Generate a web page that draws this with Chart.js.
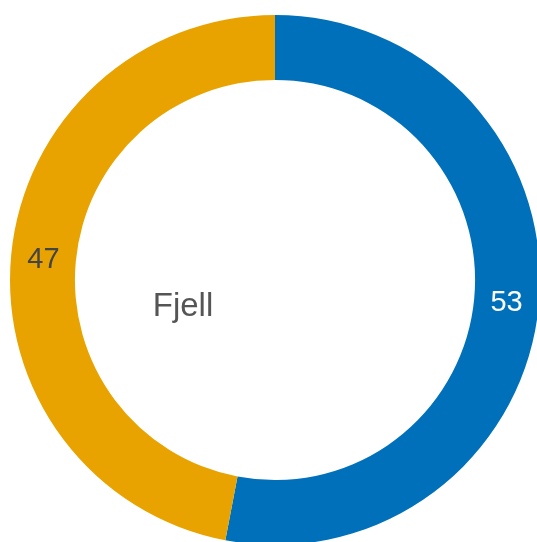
<!DOCTYPE html>
<html>
<head>
<meta charset="utf-8">
<script src="https://cdn.jsdelivr.net/npm/chart.js@4/dist/chart.umd.min.js"></script>
<style>
  html, body { margin: 0; padding: 0; background: #fff; overflow: hidden; }
  #wrap { position: absolute; left: 0; top: 0; width: 550px; height: 560px; }
</style>
</head>
<body>
<div id="wrap"><canvas id="c"></canvas></div>
<script>
const categories = ["A", "B"];
const values = [53, 47];
const colors = ["#0070BA", "#E8A300"];
const labelColors = ["#ffffff", "#444444"];
const centerTitle = "Fjell";

const valueLabels = {
  id: "valueLabels",
  afterDatasetsDraw(chart) {
    const ctx = chart.ctx;
    const meta = chart.getDatasetMeta(0);
    ctx.save();
    ctx.font = "29px 'Liberation Sans', Arial, sans-serif";
    ctx.textAlign = "center";
    ctx.textBaseline = "middle";
    meta.data.forEach((arc, i) => {
      const p = arc.tooltipPosition();
      ctx.fillStyle = labelColors[i];
      ctx.fillText(String(values[i]), p.x, p.y + 1.5);
    });
    ctx.restore();
  }
};

const centerText = {
  id: "centerText",
  afterDatasetsDraw(chart) {
    const ctx = chart.ctx;
    const a = chart.chartArea;
    const cx = (a.left + a.right) / 2;
    const cy = (a.top + a.bottom) / 2;
    ctx.save();
    ctx.font = "33px 'Liberation Sans', Arial, sans-serif";
    ctx.fillStyle = "#555555";
    ctx.textAlign = "center";
    ctx.textBaseline = "middle";
    ctx.fillText(centerTitle, cx - 92, cy + 27);
    ctx.restore();
  }
};

new Chart(document.getElementById("c"), {
  type: "doughnut",
  data: {
    labels: categories,
    datasets: [{
      data: values,
      backgroundColor: colors,
      borderWidth: 0,
      hoverOffset: 0
    }]
  },
  options: {
    responsive: true,
    maintainAspectRatio: false,
    animation: false,
    cutout: "75.5%",
    layout: { padding: { left: 10, right: 10, top: 15, bottom: 15 } },
    plugins: {
      legend: { display: false },
      tooltip: { enabled: false },
      title: { display: false }
    }
  },
  plugins: [valueLabels, centerText]
});
</script>
</body>
</html>
